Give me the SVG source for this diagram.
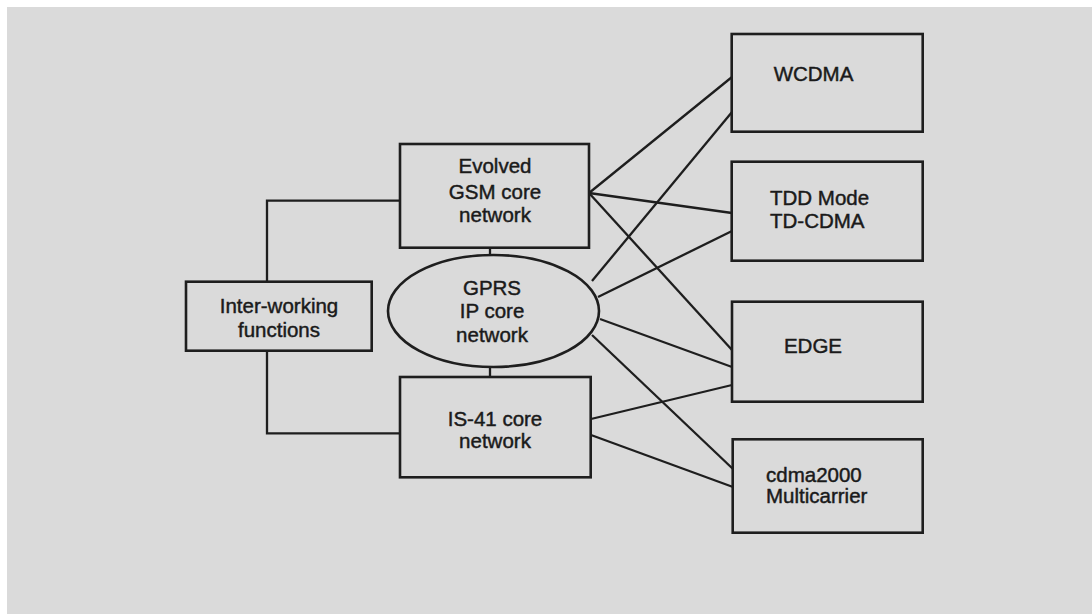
<svg xmlns="http://www.w3.org/2000/svg" width="1092" height="615" viewBox="0 0 1092 615">
  <style>
    .box { fill: none; stroke: #1e1e1e; stroke-width: 2.6; }
    .wire { fill: none; stroke: #1e1e1e; stroke-width: 2.3; stroke-linejoin: miter; }
    .lbl { font-family: "Liberation Sans", Arial, sans-serif; font-size: 20.5px; fill: #1a1a1a; stroke: #1a1a1a; stroke-width: 0.45; }
    .mid { text-anchor: middle; }
  </style>
  <!-- page -->
  <rect x="0" y="0" width="1092" height="615" fill="#ffffff"/>
  <rect x="7" y="7" width="1085" height="607" fill="#dadada"/>

  <g id="connectors" class="wire">
    <!-- inter-working links to the two core networks -->
    <polyline points="267,281.7 267,200.7 400,200.7"/>
    <polyline points="267,350.7 267,433.3 400,433.3"/>
    <!-- core networks to GPRS IP core -->
    <line x1="490" y1="248" x2="490" y2="255"/>
    <line x1="490" y1="367" x2="490" y2="377"/>
    <!-- Evolved GSM core network to radio access -->
    <line x1="589" y1="193" x2="732" y2="77"/>
    <line x1="589" y1="193" x2="732" y2="213"/>
    <line x1="589" y1="193" x2="732" y2="350"/>
    <!-- GPRS IP core network to radio access -->
    <line x1="592" y1="281" x2="732" y2="112"/>
    <line x1="598" y1="297" x2="732" y2="231"/>
    <line x1="600" y1="319" x2="732" y2="367"/>
    <line x1="592" y1="335" x2="733" y2="469"/>
    <!-- IS-41 core network to radio access -->
    <line x1="591" y1="419" x2="732" y2="385"/>
    <line x1="591" y1="435" x2="733" y2="487"/>
  </g>

  <g id="interworking">
    <rect class="box" x="186" y="281.7" width="185.7" height="69"/>
    <text class="lbl mid" x="279" y="313.3">Inter-working</text>
    <text class="lbl mid" x="279" y="336.7">functions</text>
  </g>

  <g id="gsm-core">
    <rect class="box" x="400" y="144" width="189" height="103.7"/>
    <text class="lbl mid" x="495" y="173.3">Evolved</text>
    <text class="lbl mid" x="495" y="199">GSM core</text>
    <text class="lbl mid" x="495" y="221.7">network</text>
  </g>

  <g id="gprs-core">
    <ellipse class="box" cx="493.5" cy="311" rx="105.5" ry="56"/>
    <text class="lbl mid" x="492" y="295">GPRS</text>
    <text class="lbl mid" x="492" y="318">IP core</text>
    <text class="lbl mid" x="492" y="341.7">network</text>
  </g>

  <g id="is41-core">
    <rect class="box" x="400" y="377" width="190.7" height="100.3"/>
    <text class="lbl mid" x="495" y="426">IS-41 core</text>
    <text class="lbl mid" x="495" y="448.3">network</text>
  </g>

  <g id="wcdma">
    <rect class="box" x="731.7" y="34" width="191" height="97.7"/>
    <text class="lbl mid" x="813.5" y="81">WCDMA</text>
  </g>

  <g id="tdd">
    <rect class="box" x="731.7" y="161.7" width="191" height="99"/>
    <text class="lbl" x="770" y="205">TDD Mode</text>
    <text class="lbl" x="770" y="228.3">TD-CDMA</text>
  </g>

  <g id="edge">
    <rect class="box" x="732" y="301.7" width="190.7" height="100"/>
    <text class="lbl mid" x="813" y="353.3">EDGE</text>
  </g>

  <g id="cdma2000">
    <rect class="box" x="732.7" y="439.3" width="190" height="93.4"/>
    <text class="lbl" x="766" y="481.7">cdma2000</text>
    <text class="lbl" x="766" y="503.3">Multicarrier</text>
  </g>
</svg>
